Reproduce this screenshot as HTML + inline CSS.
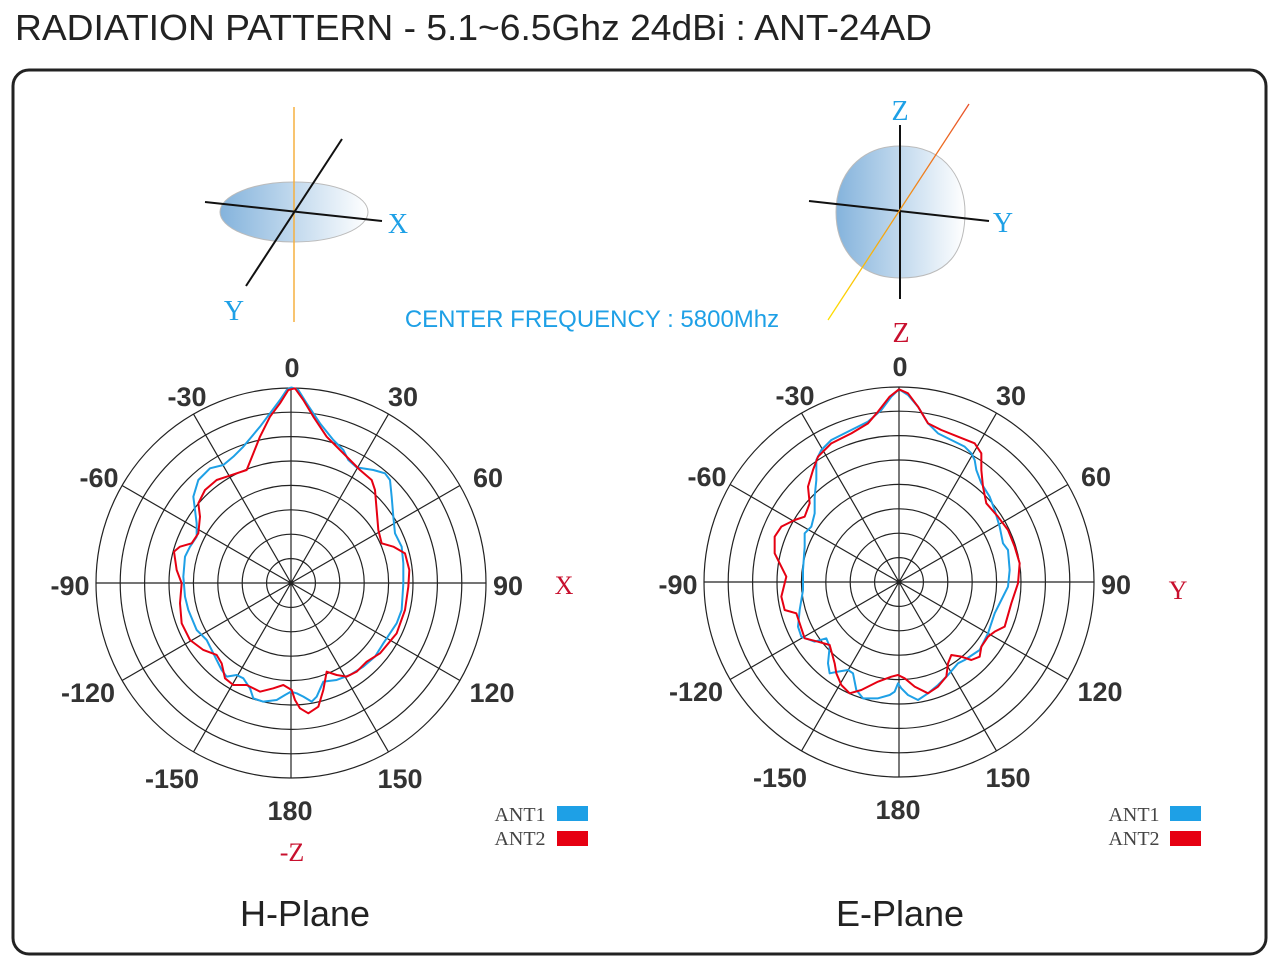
<!DOCTYPE html>
<html><head><meta charset="utf-8"><style>
body{margin:0;background:#fff;}
svg{display:block;}
.t{font-family:"Liberation Sans",Arial,sans-serif;font-weight:bold;font-size:27px;fill:#333;text-anchor:middle;}
.s{font-family:"Liberation Serif",serif;}
</style></head><body>
<svg width="1280" height="968" viewBox="0 0 1280 968" xmlns="http://www.w3.org/2000/svg">
<defs>
<linearGradient id="g1" x1="0" x2="1" y1="0" y2="0"><stop offset="0" stop-color="#84b3dc"/><stop offset="1" stop-color="#ffffff"/></linearGradient>
<linearGradient id="g2" x1="0" x2="1" y1="1" y2="0"><stop offset="0" stop-color="#ffe000"/><stop offset="1" stop-color="#e8502a"/></linearGradient>
<g id="grid">
<g fill="none" stroke="#222" stroke-width="1.2">
<circle r="24.4"/><circle r="48.8"/><circle r="73.2"/><circle r="97.6"/><circle r="122"/><circle r="146.4"/><circle r="170.8"/><circle r="195"/>
<line x1="0" y1="-195" x2="0" y2="195"/><line x1="-195" y1="0" x2="195" y2="0"/>
<line x1="-97.5" y1="-168.9" x2="97.5" y2="168.9"/><line x1="97.5" y1="-168.9" x2="-97.5" y2="168.9"/>
<line x1="-168.9" y1="-97.5" x2="168.9" y2="97.5"/><line x1="168.9" y1="-97.5" x2="-168.9" y2="97.5"/>
</g><circle r="2.5" fill="#222"/></g>
</defs>
<text x="15" y="40" font-family="Liberation Sans,sans-serif" font-size="36" fill="#222" textLength="917" lengthAdjust="spacingAndGlyphs">RADIATION PATTERN - 5.1~6.5Ghz 24dBi : ANT-24AD</text>
<rect x="13" y="70" width="1253" height="884" rx="16" fill="none" stroke="#222" stroke-width="3"/>

<ellipse cx="294" cy="212" rx="74" ry="30" fill="url(#g1)" stroke="#bbb" stroke-width="1"/>
<line x1="294" y1="107" x2="294" y2="322" stroke="#f5b040" stroke-width="1.5"/>
<line x1="205" y1="202" x2="382" y2="221" stroke="#111" stroke-width="2"/>
<line x1="246" y1="286" x2="342" y2="139" stroke="#111" stroke-width="2"/>
<text x="398" y="233" class="s" font-size="28" fill="#1ea0e6" text-anchor="middle">X</text>
<text x="234" y="320" class="s" font-size="28" fill="#1ea0e6" text-anchor="middle">Y</text>
<path d="M900,146 C950,146 965,185 965,212 C965,250 950,278 900,278 C860,278 836,250 836,212 C836,175 860,146 900,146 Z" fill="url(#g1)" stroke="#bbb" stroke-width="1"/>
<line x1="900" y1="125" x2="900" y2="299" stroke="#111" stroke-width="2"/>
<line x1="809" y1="201" x2="989" y2="221" stroke="#111" stroke-width="2"/>
<line x1="969" y1="104" x2="828" y2="320" stroke="url(#g2)" stroke-width="1.3"/>
<text x="900" y="120" class="s" font-size="28" fill="#1ea0e6" text-anchor="middle">Z</text>
<text x="1003" y="232" class="s" font-size="28" fill="#1ea0e6" text-anchor="middle">Y</text>
<text x="901" y="342" class="s" font-size="28" fill="#c8102e" text-anchor="middle">Z</text>
<text x="592" y="327" font-family="Liberation Sans,sans-serif" font-size="24" fill="#1ea0e6" text-anchor="middle">CENTER FREQUENCY : 5800Mhz</text>

<use href="#grid" x="291" y="583"/>
<g transform="translate(90,370) scale(0.33333)" fill="none" stroke-width="6" stroke-linejoin="round">
<polyline stroke="#1ea0e6" points="603,52 625,60 650,100 690,160 730,210 760,240 775,270 800,292 850,300 885,310 900,330 905,380 910,440 915,490 935,530 940,580 940,640 935,720 920,760 900,790 880,820 855,860 820,890 780,915 740,930 700,935 680,980 665,995 640,980 620,970 603,965 585,975 560,990 520,995 490,985 480,955 460,925 440,915 410,920 395,900 375,860 350,810 320,780 295,720 285,680 280,620 285,560 300,530 320,500 320,460 315,420 310,380 325,330 360,295 400,285 430,260 460,230 510,170 540,130 570,90 590,60 603,52"/>
<polyline stroke="#e60012" points="603,58 615,55 640,90 670,140 710,200 750,240 780,270 810,300 845,330 855,360 860,420 865,480 875,520 910,530 945,550 958,600 955,650 945,720 920,790 895,820 870,850 830,875 800,905 770,920 740,915 710,905 700,960 685,1010 655,1030 630,1015 615,990 605,960 580,945 550,955 510,965 470,945 430,945 405,925 395,880 380,855 340,840 300,810 275,760 270,700 275,640 260,600 252,545 270,530 305,520 325,490 330,440 325,400 345,360 380,330 410,320 440,310 470,300 490,250 510,200 540,140 570,100 595,60 603,58"/>
</g>
<g class="t">
<text x="292" y="377">0</text><text x="403" y="406">30</text><text x="488" y="487">60</text><text x="508" y="595">90</text>
<text x="492" y="702">120</text><text x="400" y="788">150</text><text x="290" y="820">180</text><text x="172" y="788">-150</text>
<text x="88" y="702">-120</text><text x="70" y="595">-90</text><text x="99" y="487">-60</text><text x="187" y="406">-30</text>
</g>
<text x="564" y="594" class="s" font-size="26" fill="#c8102e" text-anchor="middle">X</text>
<text x="292" y="861" class="s" font-size="26" fill="#c8102e" text-anchor="middle">-Z</text>
<text x="520" y="821" class="s" font-size="20" fill="#444" text-anchor="middle">ANT1</text>
<rect x="557" y="806" width="31" height="15" fill="#1ea0e6"/>
<text x="520" y="845" class="s" font-size="20" fill="#444" text-anchor="middle">ANT2</text>
<rect x="557" y="831" width="31" height="15" fill="#e60012"/>
<text x="305" y="926" font-family="Liberation Sans,sans-serif" font-size="36" fill="#222" text-anchor="middle">H-Plane</text>

<use href="#grid" x="899" y="582"/>
<g transform="translate(698,370) scale(0.33333)" fill="none" stroke-width="6" stroke-linejoin="round">
<polyline stroke="#1ea0e6" points="603,58 630,75 660,110 690,160 720,190 760,210 800,230 820,250 830,270 835,300 850,340 875,380 890,420 905,470 915,520 930,540 935,600 930,650 910,690 890,730 870,790 845,840 800,870 780,880 750,915 720,945 690,970 660,990 630,975 610,955 600,940 590,965 575,975 540,985 495,985 475,960 465,910 450,900 420,905 395,910 390,880 395,830 385,805 350,815 310,800 300,770 305,720 315,660 315,600 320,530 320,490 340,470 350,430 350,380 355,330 355,270 370,240 400,210 450,185 510,155 550,120 580,80 603,58"/>
<polyline stroke="#e60012" points="603,58 630,70 660,110 690,160 730,180 780,200 830,220 850,250 850,300 855,350 865,400 900,440 930,480 950,530 965,580 960,640 940,700 920,770 890,785 870,800 850,830 845,860 820,870 790,860 760,855 750,880 745,920 720,950 690,970 650,950 620,925 600,915 580,920 540,935 490,960 455,970 430,945 415,910 410,880 395,825 360,815 320,805 305,760 295,730 260,720 250,680 265,620 250,590 230,550 230,500 250,470 290,450 320,440 335,400 330,350 345,300 360,260 400,220 460,190 510,160 540,125 575,80 603,58"/>
</g>
<g class="t">
<text x="900" y="376">0</text><text x="1011" y="405">30</text><text x="1096" y="486">60</text><text x="1116" y="594">90</text>
<text x="1100" y="701">120</text><text x="1008" y="787">150</text><text x="898" y="819">180</text><text x="780" y="787">-150</text>
<text x="696" y="701">-120</text><text x="678" y="594">-90</text><text x="707" y="486">-60</text><text x="795" y="405">-30</text>
</g>
<text x="1178" y="599" class="s" font-size="26" fill="#c8102e" text-anchor="middle">Y</text>
<text x="1134" y="821" class="s" font-size="20" fill="#444" text-anchor="middle">ANT1</text>
<rect x="1170" y="806" width="31" height="15" fill="#1ea0e6"/>
<text x="1134" y="845" class="s" font-size="20" fill="#444" text-anchor="middle">ANT2</text>
<rect x="1170" y="831" width="31" height="15" fill="#e60012"/>
<text x="900" y="926" font-family="Liberation Sans,sans-serif" font-size="36" fill="#222" text-anchor="middle">E-Plane</text>
</svg>
</body></html>
